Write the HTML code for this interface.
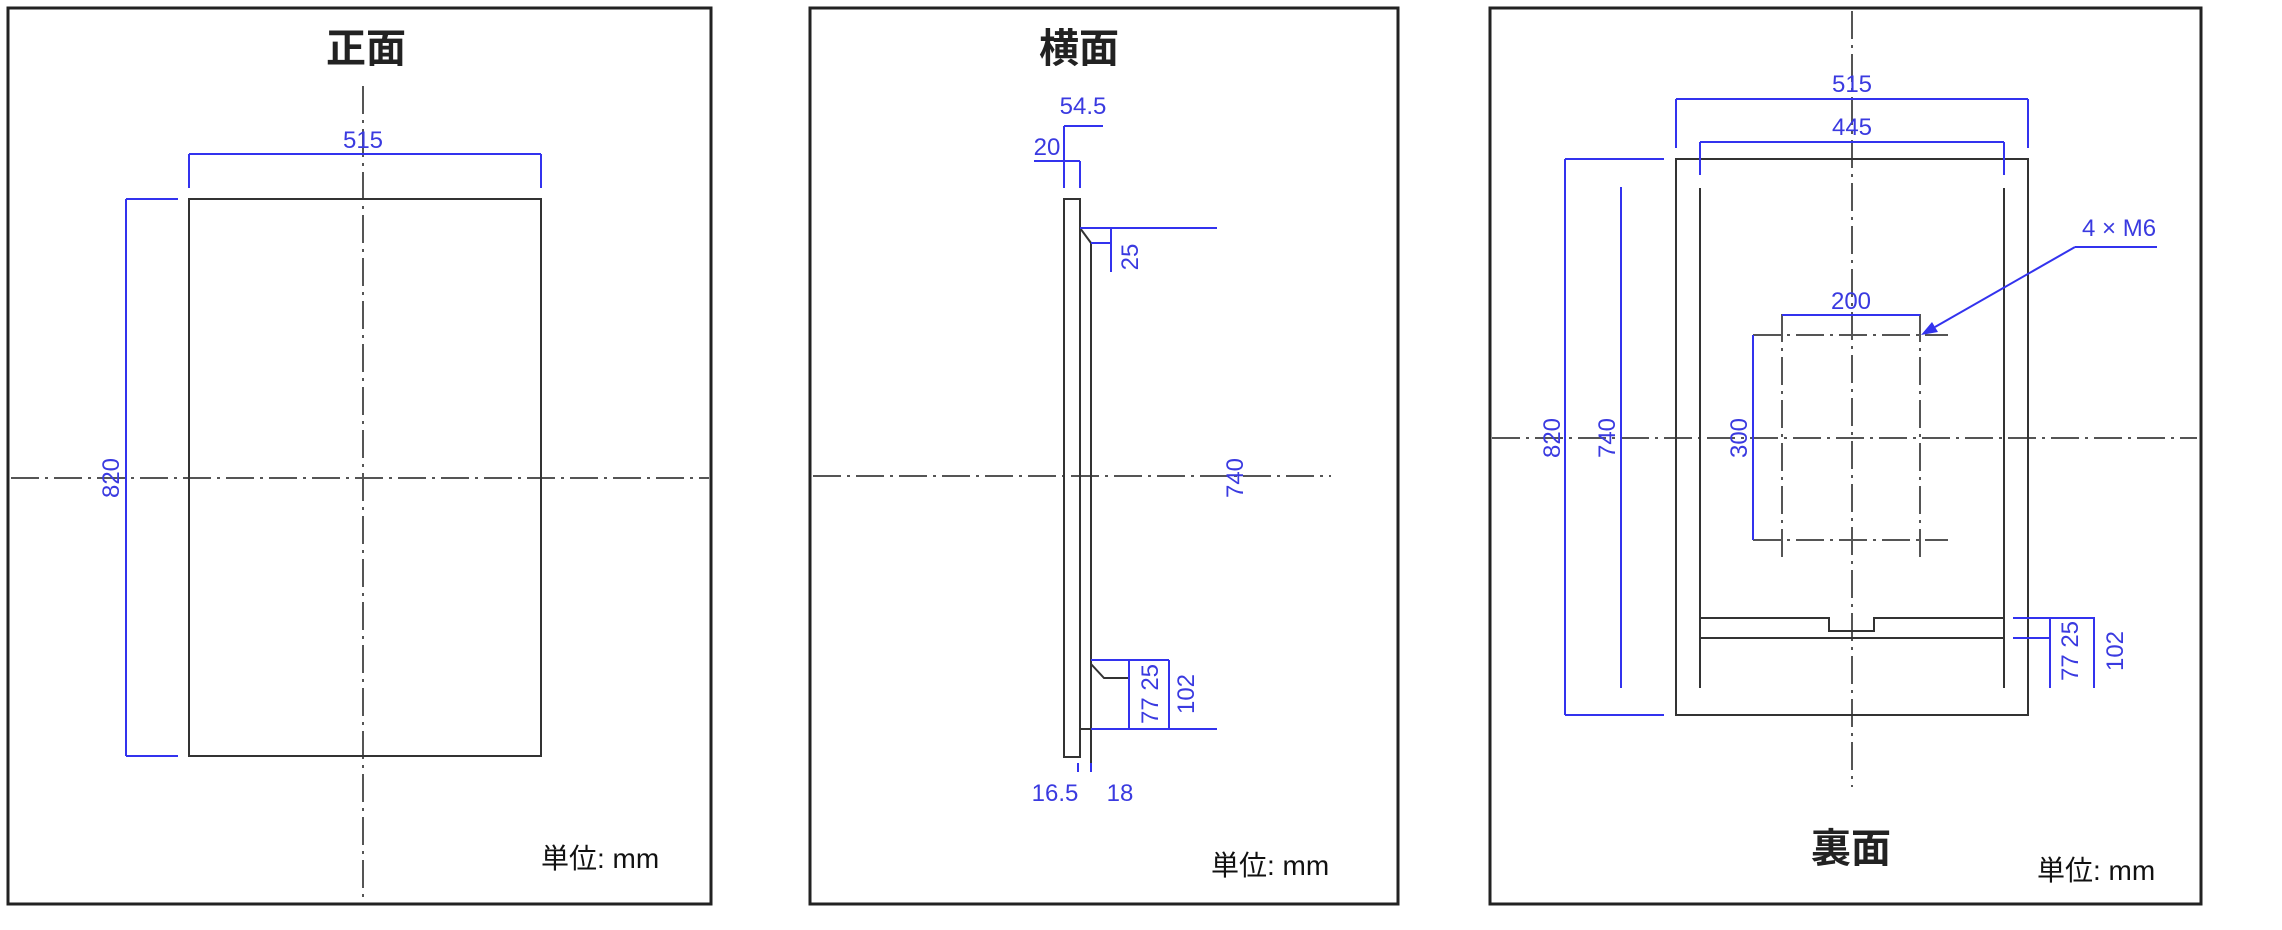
<!DOCTYPE html>
<html><head><meta charset="utf-8"><style>
html,body{margin:0;padding:0;background:#fff;}
svg{display:block;}
.t{font-family:"Liberation Sans","Noto Sans CJK JP",sans-serif;}
.d{font-family:"Liberation Sans",sans-serif;fill:#3a3ae0;font-size:24px;}
.b{stroke:#3333ee;stroke-width:2;fill:none;}
.k{stroke:#333;stroke-width:2;fill:none;}
.c{stroke:#555;stroke-width:2;fill:none;stroke-dasharray:28 6 3 6;}
</style></head><body>
<svg width="2282" height="930" viewBox="0 0 2282 930" xmlns="http://www.w3.org/2000/svg">
<!-- Panel 1 -->
<rect x="8" y="8" width="703" height="896" fill="none" stroke="#222" stroke-width="3"/>
<text x="366" y="62" text-anchor="middle" class="t" font-size="40" font-weight="bold" fill="#222">正面</text>
<line class="c" x1="363" y1="86" x2="363" y2="902"/>
<line class="c" x1="11" y1="478" x2="709" y2="478"/>
<rect class="k" x="189" y="199" width="352" height="557"/>
<line class="b" x1="189" y1="154" x2="541" y2="154"/>
<line class="b" x1="189" y1="154" x2="189" y2="188"/>
<line class="b" x1="541" y1="154" x2="541" y2="188"/>
<text x="363" y="148" text-anchor="middle" class="d">515</text>
<line class="b" x1="126" y1="199" x2="126" y2="756"/>
<line class="b" x1="126" y1="199" x2="178" y2="199"/>
<line class="b" x1="126" y1="756" x2="178" y2="756"/>
<text transform="translate(119,478) rotate(-90)" text-anchor="middle" class="d">820</text>
<text x="541" y="868" class="t" font-size="28" fill="#111">単位: mm</text>

<!-- Panel 2 -->
<rect x="810" y="8" width="588" height="896" fill="none" stroke="#222" stroke-width="3"/>
<text x="1079" y="62" text-anchor="middle" class="t" font-size="40" font-weight="bold" fill="#222">横面</text>
<line class="c" x1="813" y1="476" x2="1331" y2="476"/>
<rect class="k" x="1064" y="199" width="16" height="558"/>
<polyline class="k" points="1080,228 1091,243 1091,763"/>
<line class="k" x1="1080" y1="729" x2="1091" y2="729"/>
<polyline class="k" points="1091,664 1104,678 1129,678"/>
<line class="b" x1="1080" y1="228" x2="1217" y2="228"/>
<line class="b" x1="1111" y1="228" x2="1111" y2="272"/>
<line class="b" x1="1091" y1="243" x2="1111" y2="243"/>
<text transform="translate(1138,257) rotate(-90)" text-anchor="middle" class="d">25</text>
<text transform="translate(1243,478) rotate(-90)" text-anchor="middle" class="d">740</text>
<line class="b" x1="1064" y1="126" x2="1103" y2="126"/>
<line class="b" x1="1064" y1="126" x2="1064" y2="188"/>
<text x="1083" y="114" text-anchor="middle" class="d">54.5</text>
<line class="b" x1="1034" y1="161" x2="1080" y2="161"/>
<line class="b" x1="1080" y1="161" x2="1080" y2="188"/>
<text x="1047" y="155" text-anchor="middle" class="d">20</text>
<line class="b" x1="1091" y1="660" x2="1169" y2="660"/>
<line class="b" x1="1091" y1="729" x2="1217" y2="729"/>
<line class="b" x1="1129" y1="660" x2="1129" y2="729"/>
<line class="b" x1="1169" y1="660" x2="1169" y2="729"/>
<text transform="translate(1158,694) rotate(-90)" text-anchor="middle" class="d">77 25</text>
<text transform="translate(1194,694) rotate(-90)" text-anchor="middle" class="d">102</text>
<line class="b" x1="1078" y1="763" x2="1078" y2="772"/>
<line class="b" x1="1091" y1="763" x2="1091" y2="772"/>
<text x="1055" y="801" text-anchor="middle" class="d">16.5</text>
<text x="1120" y="801" text-anchor="middle" class="d">18</text>
<text x="1211" y="875" class="t" font-size="28" fill="#111">単位: mm</text>

<!-- Panel 3 -->
<rect x="1490" y="8" width="711" height="896" fill="none" stroke="#222" stroke-width="3"/>
<line class="c" x1="1852" y1="11" x2="1852" y2="787"/>
<line class="c" x1="1492" y1="438" x2="2197" y2="438"/>
<rect class="k" x="1676" y="159" width="352" height="556"/>
<line class="k" x1="1700" y1="188" x2="1700" y2="688"/>
<line class="k" x1="2004" y1="188" x2="2004" y2="688"/>
<polyline class="k" points="1700,618 1829,618 1829,631 1874,631 1874,618 2004,618"/>
<line class="k" x1="1700" y1="638" x2="2004" y2="638"/>
<line class="b" x1="1676" y1="99" x2="2028" y2="99"/>
<line class="b" x1="1676" y1="99" x2="1676" y2="148"/>
<line class="b" x1="2028" y1="99" x2="2028" y2="148"/>
<text x="1852" y="92" text-anchor="middle" class="d">515</text>
<line class="b" x1="1700" y1="142" x2="2004" y2="142"/>
<line class="b" x1="1700" y1="142" x2="1700" y2="175"/>
<line class="b" x1="2004" y1="142" x2="2004" y2="175"/>
<text x="1852" y="135" text-anchor="middle" class="d">445</text>
<line class="b" x1="1565" y1="159" x2="1565" y2="715"/>
<line class="b" x1="1565" y1="159" x2="1664" y2="159"/>
<line class="b" x1="1565" y1="715" x2="1664" y2="715"/>
<text transform="translate(1560,438) rotate(-90)" text-anchor="middle" class="d">820</text>
<line class="b" x1="1621" y1="187" x2="1621" y2="688"/>
<text transform="translate(1615,438) rotate(-90)" text-anchor="middle" class="d">740</text>
<line class="c" x1="1753" y1="335" x2="1948" y2="335"/>
<line class="c" x1="1753" y1="540" x2="1948" y2="540"/>
<line class="c" x1="1782" y1="314" x2="1782" y2="562"/>
<line class="c" x1="1920" y1="314" x2="1920" y2="562"/>
<line class="b" x1="1782" y1="315" x2="1920" y2="315"/>
<text x="1851" y="309" text-anchor="middle" class="d">200</text>
<line class="b" x1="1753" y1="335" x2="1753" y2="540"/>
<text transform="translate(1747,438) rotate(-90)" text-anchor="middle" class="d">300</text>
<text x="2082" y="236" class="d">4 × M6</text>
<line class="b" x1="2075" y1="247" x2="2157" y2="247"/>
<line class="b" x1="2075" y1="247" x2="1935" y2="327"/>
<polygon points="1921,335 1932,322 1938,332" fill="#3333ee"/>
<line class="b" x1="2013" y1="618" x2="2095" y2="618"/>
<line class="b" x1="2013" y1="638" x2="2050" y2="638"/>
<line class="b" x1="2050" y1="618" x2="2050" y2="688"/>
<line class="b" x1="2094" y1="618" x2="2094" y2="688"/>
<text transform="translate(2078,651) rotate(-90)" text-anchor="middle" class="d">77 25</text>
<text transform="translate(2123,651) rotate(-90)" text-anchor="middle" class="d">102</text>
<text x="1851" y="862" text-anchor="middle" class="t" font-size="40" font-weight="bold" fill="#222">裏面</text>
<text x="2037" y="880" class="t" font-size="28" fill="#111">単位: mm</text>
</svg>
</body></html>
